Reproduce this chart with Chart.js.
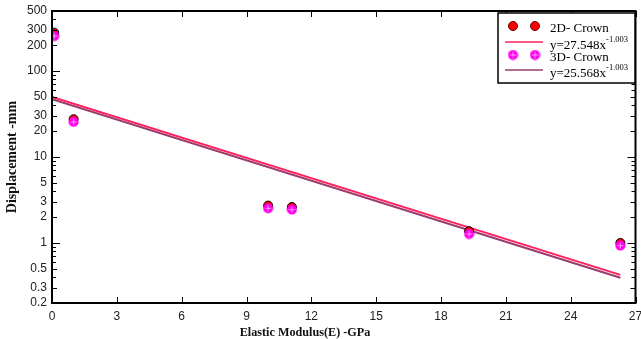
<!DOCTYPE html>
<html>
<head>
<meta charset="utf-8">
<script src="https://cdn.jsdelivr.net/npm/chart.js@4/dist/chart.umd.min.js"></script>
<style>
  html, body { margin: 0; padding: 0; background: #fff; }
  canvas { display: block; }
</style>
</head>
<body>
<canvas id="dispChart" width="641" height="339"></canvas>
<script>
// measured points
const modulus = [0.1, 1, 10, 11.1, 19.3, 26.3];
const crown2D = [280, 27.5, 2.72, 2.62, 1.37, 1.0];
const crown3D = [255, 25.6, 2.53, 2.44, 1.27, 0.93];

// fitted trend lines (end points)
const fitX = [0, 26.3];
const fit2D = [50, 0.425];
const fit3D = [47, 0.393];

const xTicks = [0, 3, 6, 9, 12, 15, 18, 21, 24, 27];
const yLabelled = [0.2, 0.3, 0.5, 1, 2, 3, 5, 10, 20, 30, 50, 100, 200, 300, 500];
const yMinor = [0.4, 0.6, 0.7, 0.8, 0.9, 4, 6, 7, 8, 9, 40, 60, 70, 80, 90, 400];

const xTitle = "Elastic Modulus(E) -GPa";

const legendItems = [
  { kind: "dot2d", text: "2D- Crown" },
  { kind: "line", color: "#ff1f5a", text: "y=27.548x", sup: "-1.003" },
  { kind: "dot3d", text: "3D- Crown" },
  { kind: "line", color: "#9a3b6e", text: "y=25.568x", sup: "-1.003" },
];

function makeCrossDot() {
  const c = document.createElement("canvas");
  c.width = 11; c.height = 11;
  const g = c.getContext("2d");
  g.fillStyle = "#ff00ee";
  g.beginPath(); g.arc(5.5, 5.5, 5, 0, Math.PI * 2); g.fill();
  g.strokeStyle = "#ff9cf5";
  g.lineWidth = 1;
  g.beginPath();
  g.moveTo(5.5, 2.5); g.lineTo(5.5, 8.5);
  g.moveTo(2.5, 5.5); g.lineTo(8.5, 5.5);
  g.stroke();
  return c;
}
const crossDot = makeCrossDot();

function toPoints(xs, ys) {
  return xs.map((x, i) => ({ x: x, y: ys[i] }));
}

// frame, inward ticks, x title and the legend box
const framePlugin = {
  id: "frame",
  afterDraw(chart) {
    const ctx = chart.ctx;
    const a = chart.chartArea;
    const xs = chart.scales.x;
    const ys = chart.scales.y;
    ctx.save();
    ctx.strokeStyle = "#000";
    ctx.lineWidth = 1;
    ctx.beginPath();
    xTicks.forEach((v) => {
      const px = Math.round(xs.getPixelForValue(v)) + 0.5;
      ctx.moveTo(px, a.bottom); ctx.lineTo(px, a.bottom - 6);
      ctx.moveTo(px, a.top); ctx.lineTo(px, a.top + 6);
    });
    const yTick = (v, len) => {
      const py = Math.round(ys.getPixelForValue(v)) + 0.5;
      ctx.moveTo(a.left, py); ctx.lineTo(a.left + len, py);
      ctx.moveTo(a.right, py); ctx.lineTo(a.right - len, py);
    };
    yLabelled.forEach((v) => yTick(v, [1, 10, 100].includes(v) ? 8 : 5));
    yMinor.forEach((v) => yTick(v, 4));
    ctx.stroke();

    ctx.lineWidth = 2;
    ctx.strokeRect(a.left, a.top, a.right - a.left, a.bottom - a.top);

    // axis title sits a little left of the plot centre
    ctx.fillStyle = "#111";
    ctx.font = "bold 12.2px 'Liberation Serif'";
    ctx.textAlign = "center";
    ctx.textBaseline = "middle";
    ctx.fillText(xTitle, 305, 333);

    // legend
    const bx = 498, by = 13, bw = 137, bh = 70;
    ctx.fillStyle = "#fff";
    ctx.fillRect(bx, by, bw, bh);
    ctx.lineWidth = 1.5;
    ctx.strokeRect(bx, by, bw, bh);
    const rows = [26, 42, 55, 70];
    const baselines = [32, 49, 61, 77];
    legendItems.forEach((it, i) => {
      const y = rows[i];
      if (it.kind === "dot2d") {
        [513, 535].forEach((cx) => {
          ctx.fillStyle = "#ff0000";
          ctx.strokeStyle = "#600";
          ctx.lineWidth = 1;
          ctx.beginPath(); ctx.arc(cx, y, 4.5, 0, Math.PI * 2); ctx.fill(); ctx.stroke();
        });
      } else if (it.kind === "dot3d") {
        [513, 535].forEach((cx) => ctx.drawImage(crossDot, cx - 5.5, y - 5.5));
      } else {
        ctx.strokeStyle = it.color;
        ctx.lineWidth = 1.5;
        ctx.beginPath(); ctx.moveTo(505, y); ctx.lineTo(543, y); ctx.stroke();
      }
      ctx.fillStyle = "#000";
      ctx.textBaseline = "alphabetic";
      ctx.textAlign = "left";
      ctx.font = "13px 'Liberation Serif'";
      const ty = baselines[i];
      ctx.fillText(it.text, 550, ty);
      if (it.sup) {
        const w = ctx.measureText(it.text).width;
        ctx.font = "8.5px 'Liberation Serif'";
        ctx.fillText(it.sup, 550 + w, ty - 7);
      }
    });
    ctx.restore();
  },
};

new Chart(document.getElementById("dispChart"), {
  type: "scatter",
  data: {
    datasets: [
      {
        label: "3D- Crown",
        data: toPoints(modulus, crown3D),
        pointStyle: crossDot,
        order: 1,
      },
      {
        label: "2D- Crown",
        data: toPoints(modulus, crown2D),
        pointStyle: "circle",
        pointRadius: 4.5,
        backgroundColor: "#ff0000",
        borderColor: "#000",
        borderWidth: 1,
        order: 2,
      },
      {
        label: "fit 2D",
        type: "line",
        data: toPoints(fitX, fit2D),
        borderColor: "#ff1f5a",
        borderWidth: 2,
        pointRadius: 0,
        order: 3,
      },
      {
        label: "fit 3D",
        type: "line",
        data: toPoints(fitX, fit3D),
        borderColor: "#9a3b6e",
        borderWidth: 2,
        pointRadius: 0,
        order: 4,
      },
    ],
  },
  options: {
    responsive: false,
    animation: false,
    layout: { padding: { top: 11, right: 4, left: 0, bottom: 0 } },
    plugins: { legend: { display: false }, tooltip: { enabled: false } },
    scales: {
      x: {
        type: "linear",
        min: 0,
        max: 27,
        afterBuildTicks: (s) => { s.ticks = xTicks.map((v) => ({ value: v })); },
        afterFit: (s) => { s.height = 36; s.paddingLeft = 0; s.paddingRight = 0; },
        grid: { display: false, drawTicks: false },
        border: { display: false },
        ticks: {
          color: "#222",
          padding: 6,
          maxRotation: 0,
          font: { family: "'Liberation Sans'", size: 12 },
        },
      },
      y: {
        type: "logarithmic",
        min: 0.2,
        max: 500,
        afterBuildTicks: (s) => { s.ticks = yLabelled.map((v) => ({ value: v })); },
        afterFit: (s) => { s.width = 52; s.paddingTop = 0; s.paddingBottom = 0; },
        grid: { display: false, drawTicks: false },
        border: { display: false },
        ticks: {
          color: "#222",
          padding: 5,
          autoSkip: false,
          font: { family: "'Liberation Sans'", size: 12 },
          callback: (v) => String(v),
        },
        title: {
          display: true,
          text: "Displacement -mm",
          color: "#111",
          padding: { top: 5, bottom: 0 },
          font: { family: "'Liberation Serif'", size: 14, weight: "bold", lineHeight: 1.0 },
        },
      },
    },
  },
  plugins: [framePlugin],
});
</script>
</body>
</html>
